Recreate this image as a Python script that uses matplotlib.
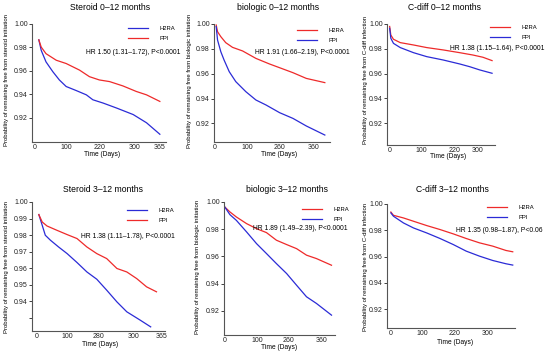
import matplotlib
matplotlib.use('Agg')
import matplotlib.pyplot as plt

plt.rcParams['font.family'] = ['Liberation Sans', 'DejaVu Sans']

BLUE = '#2b2bd6'
RED = '#ee2a2a'

# ---- data (days, survival probability) ----
# Steroid 0-12 months
st1_h2ra_days = [11, 18, 32, 52, 71, 91, 120, 150, 169, 199, 238, 287, 326, 365]
st1_h2ra = [0.9865, 0.9775, 0.9677, 0.9593, 0.9523, 0.9467, 0.9433, 0.9396, 0.9354, 0.9326, 0.9284, 0.9228, 0.9158, 0.906]
st1_ppi_days = [11, 18, 32, 62, 91, 130, 159, 188, 218, 257, 296, 326, 365]
st1_ppi = [0.9865, 0.9803, 0.9747, 0.9691, 0.9663, 0.9607, 0.9551, 0.9523, 0.9509, 0.9472, 0.9425, 0.9396, 0.934]

# biologic 0-12 months
bi1_h2ra_days = [4, 9, 21, 39, 64, 101, 150, 200, 237, 286, 335, 403]
bi1_h2ra = [0.9992, 0.9938, 0.9898, 0.985, 0.9812, 0.9783, 0.9723, 0.9678, 0.9648, 0.9608, 0.9562, 0.9528]
bi1_ppi_days = [4, 9, 21, 33, 52, 76, 113, 150, 187, 237, 286, 335, 403]
bi1_ppi = [0.9979, 0.9871, 0.9777, 0.971, 0.9616, 0.9536, 0.9455, 0.9388, 0.9348, 0.9286, 0.924, 0.9179, 0.9106]

# C-diff 0-12 months
cd1_h2ra_days = [0, 4, 13, 36, 81, 126, 182, 238, 283, 317, 348]
cd1_h2ra = [0.998, 0.9911, 0.9877, 0.985, 0.9831, 0.981, 0.9791, 0.9769, 0.975, 0.9732, 0.9705]
cd1_ppi_days = [0, 4, 13, 36, 81, 126, 182, 238, 272, 306, 348]
cd1_ppi = [0.9965, 0.9885, 0.9844, 0.981, 0.9769, 0.9737, 0.971, 0.9678, 0.9656, 0.963, 0.9603]

# Steroid 3-12 months
st3_h2ra_days = [5, 15, 24, 39, 63, 88, 117, 146, 175, 204, 234, 263, 302, 333]
st3_h2ra = [0.9924, 0.9859, 0.9799, 0.9769, 0.9728, 0.9688, 0.9634, 0.9577, 0.9533, 0.9467, 0.9396, 0.9336, 0.9286, 0.9245]
st3_ppi_days = [5, 15, 29, 58, 88, 117, 146, 175, 204, 234, 263, 292, 321, 350]
st3_ppi = [0.9924, 0.9879, 0.9855, 0.9829, 0.9803, 0.9779, 0.9728, 0.9688, 0.9658, 0.9598, 0.9577, 0.9537, 0.9487, 0.9457]

# biologic 3-12 months
bi3_days = [0, 19, 43, 81, 118, 155, 192, 230, 267, 304, 341, 397]
bi3_h2ra = [0.9963, 0.9927, 0.989, 0.9841, 0.9804, 0.9775, 0.9719, 0.9687, 0.9657, 0.9609, 0.9584, 0.9535]
bi3_ppi = [0.9963, 0.9907, 0.9865, 0.978, 0.9694, 0.9621, 0.9547, 0.9474, 0.9388, 0.9303, 0.9254, 0.9168]

# C-diff 3-12 months
cd3_days = [0, 8, 39, 70, 111, 152, 193, 233, 274, 315, 356, 377]
cd3_h2ra = [0.9939, 0.9914, 0.9894, 0.9869, 0.9836, 0.9806, 0.9773, 0.9738, 0.9705, 0.968, 0.9647, 0.9637]
cd3_ppi = [0.9932, 0.9907, 0.9856, 0.9818, 0.978, 0.9738, 0.9692, 0.9642, 0.9604, 0.9571, 0.9546, 0.9536]

titles = ['Steroid 0\u201312 months', 'biologic 0\u201312 months', 'C-diff 0\u201312 months',
          'Steroid 3\u201312 months', 'biologic 3\u201312 months', 'C-diff 3\u201312 months']
ylabels = ['Probability of remaining free from steroid initiation',
           'Probability of remaining free from biologic initiation',
           'Probability of remaining free from C-diff infection'] * 2
hr_texts = ['HR 1.50 (1.31\u20131.72), P<0.0001', 'HR 1.91 (1.66\u20132.19), P<0.0001',
            'HR 1.38 (1.15\u20131.64), P<0.0001', 'HR 1.38 (1.11\u20131.78), P<0.0001',
            'HR 1.89 (1.49\u20132.39), P<0.0001', 'HR 1.35 (0.98\u20131.87), P<0.06']
xtick_labels = [['0', '100', '220', '300', '365'], ['0', '100', '260', '360'], ['0', '100', '220', '300'],
                ['0', '100', '280', '300', '365'], ['0', '100', '260', '360'], ['0', '100', '220', '300']]
xtick_pos = [[0, 91, 188, 291, 365], [0, 120, 237, 360], [0, 109, 221, 300],
             [0, 88, 180, 282, 365], [0, 120, 238, 360], [0, 97, 196, 300]]
ytick_vals = [[0.92, 0.94, 0.96, 0.98, 1.00]] * 3 + [[0.93, 0.94, 0.95, 0.96, 0.97, 0.98, 0.99, 1.00],
                                                   [0.92, 0.94, 0.96, 0.98, 1.00], [0.92, 0.94, 0.96, 0.98, 1.00]]

# series per panel: (days, values, label, colour)
series = [
    [(st1_h2ra_days, st1_h2ra, 'H2RA', BLUE), (st1_ppi_days, st1_ppi, 'PPI', RED)],
    [(bi1_h2ra_days, bi1_h2ra, 'H2RA', RED), (bi1_ppi_days, bi1_ppi, 'PPI', BLUE)],
    [(cd1_h2ra_days, cd1_h2ra, 'H2RA', RED), (cd1_ppi_days, cd1_ppi, 'PPI', BLUE)],
    [(st3_h2ra_days, st3_h2ra, 'H2RA', BLUE), (st3_ppi_days, st3_ppi, 'PPI', RED)],
    [(bi3_days, bi3_h2ra, 'H2RA', RED), (bi3_days, bi3_ppi, 'PPI', BLUE)],
    [(cd3_days, cd3_h2ra, 'H2RA', RED), (cd3_days, cd3_ppi, 'PPI', BLUE)],
]

# ---- layout (pixels in a 550x351 figure) ----
W, H = 550, 351
boxes = [(32, 166, 24, 142), (214, 330, 24, 142), (387, 495, 24, 145),
         (32, 165, 202, 331), (224, 335, 202, 335), (387, 515, 204, 328)]
xlims = [(-9, 383), (-4, 422), (-9, 358), (-15, 375), (-3, 410), (-12, 384)]
ylims = [(0.8994, 1.0), (0.905, 1.0), (0.9025, 1.0), (0.922, 1.0), (0.9022, 1.0), (0.9058, 1.0)]
title_xy = [(110, 7), (278, 7), (445, 7), (103, 189), (287, 189), (452, 189)]
xlabel_xy = [(102, 155), (279, 155), (448, 157), (100, 345), (279, 347.5), (455, 342)]
ylabel_xy = [(7, 80), (190, 81), (365, 80), (7, 267), (198, 267), (365, 267)]
hr_xy = [(180, 52), (350, 52), (545, 48), (175, 237), (348, 228), (542, 230)]
leg_xy = [(128, 26), (297, 28), (490, 25), (127, 208), (302, 207), (487, 205)]

fig = plt.figure(figsize=(W / 100, H / 100), dpi=100)
fig.patch.set_facecolor('white')

for i in range(6):
    l, r, t, b = boxes[i]
    ax = fig.add_axes([l / W, 1 - b / H, (r - l) / W, (b - t) / H])
    for days, vals, lab, col in series[i]:
        ax.plot(days, vals, color=col, lw=0.9, label=lab)
    ax.set_xlim(*xlims[i])
    ax.set_ylim(*ylims[i])
    ax.set_xticks(xtick_pos[i])
    ax.set_xticklabels(xtick_labels[i])
    ax.set_yticks(ytick_vals[i])
    ylabs = ['%.2f' % v for v in ytick_vals[i]]
    if i == 3:
        ylabs[0] = ''
    ax.set_yticklabels(ylabs)
    ax.tick_params(axis='x', length=0, pad=1.2, labelsize=5, colors='#222222')
    ax.tick_params(axis='y', length=2, width=0.6, pad=1, labelsize=5, colors='#222222')
    for s in ['top', 'right']:
        ax.spines[s].set_visible(False)
    for s in ['left', 'bottom']:
        ax.spines[s].set_color('#555555')
        ax.spines[s].set_linewidth(0.8)

    fig.text(title_xy[i][0] / W, 1 - title_xy[i][1] / H, titles[i], ha='center', va='center', fontsize=6.2)
    fig.text(xlabel_xy[i][0] / W, 1 - xlabel_xy[i][1] / H, 'Time (Days)', ha='center', va='center', fontsize=4.8)
    fig.text(ylabel_xy[i][0] / W, 1 - ylabel_xy[i][1] / H, ylabels[i], ha='center', va='center',
             rotation=90, fontsize=4.3)
    fig.text(hr_xy[i][0] / W, 1 - hr_xy[i][1] / H, hr_texts[i], ha='right', va='center', fontsize=4.9)
    ax.legend(loc='upper left', bbox_to_anchor=(leg_xy[i][0] / W, 1 - leg_xy[i][1] / H),
              bbox_transform=fig.transFigure, frameon=False, fontsize=4.2,
              handlelength=3.4, handletextpad=2.0, labelspacing=0.8, borderpad=0, borderaxespad=0)

fig.savefig('out.png', dpi=100)
